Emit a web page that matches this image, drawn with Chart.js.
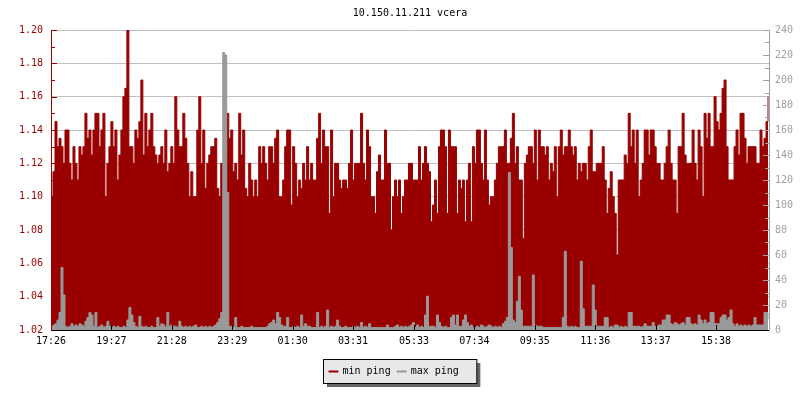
<!DOCTYPE html>
<html>
<head>
<meta charset="utf-8">
<title>10.150.11.211 vcera</title>
<script src="https://cdn.jsdelivr.net/npm/chart.js@4.4.1/dist/chart.umd.min.js"></script>
<style>
    html, body { margin: 0; padding: 0; background: #fff; }
    canvas { display: block; }
</style>
</head>
<body>
<canvas id="pingChart" width="800" height="400"></canvas>
<script>
const chartTitle = '10.150.11.211 vcera';
const tickLabels = ['17:26', '19:27', '21:28', '23:29', '01:30', '03:31', '05:33', '07:34', '09:35', '11:36', '13:37', '15:38'];
const sampleMinutes = 4;

// min ping, seconds (left axis)
const minPing = [
    1.10, 1.115, 1.145, 1.13, 1.135, 1.13, 1.12, 1.14, 1.14, 1.12,
    1.11, 1.13, 1.12, 1.11, 1.13, 1.125, 1.13, 1.15, 1.135, 1.14,
    1.125, 1.14, 1.15, 1.15, 1.13, 1.14, 1.15, 1.10, 1.12, 1.13,
    1.145, 1.13, 1.14, 1.11, 1.125, 1.14, 1.16, 1.165, 1.20, 1.13,
    1.13, 1.12, 1.14, 1.135, 1.145, 1.17, 1.125, 1.15, 1.13, 1.14,
    1.15, 1.13, 1.125, 1.12, 1.125, 1.13, 1.12, 1.14, 1.115, 1.12,
    1.13, 1.12, 1.16, 1.14, 1.13, 1.13, 1.15, 1.135, 1.12, 1.10,
    1.115, 1.10, 1.10, 1.14, 1.16, 1.12, 1.14, 1.105, 1.12, 1.125,
    1.13, 1.13, 1.135, 1.105, 1.10, 1.12, 1.12, 1.125, 1.15, 1.135, 1.14,
    1.115, 1.12, 1.11, 1.15, 1.125, 1.14, 1.105, 1.10, 1.12, 1.11,
    1.10, 1.11, 1.10, 1.13, 1.12, 1.13, 1.12, 1.11, 1.13, 1.13,
    1.12, 1.135, 1.14, 1.10, 1.10, 1.11, 1.13, 1.14, 1.14, 1.095,
    1.13, 1.12, 1.10, 1.11, 1.105, 1.12, 1.11, 1.13, 1.11, 1.12,
    1.11, 1.11, 1.135, 1.15, 1.12, 1.14, 1.13, 1.13, 1.09, 1.14,
    1.10, 1.12, 1.12, 1.11, 1.105, 1.11, 1.11, 1.105, 1.12, 1.14,
    1.11, 1.12, 1.12, 1.12, 1.15, 1.12, 1.11, 1.14, 1.13, 1.10,
    1.10, 1.09, 1.115, 1.125, 1.11, 1.11, 1.14, 1.12, 1.12, 1.08,
    1.10, 1.11, 1.10, 1.11, 1.09, 1.10, 1.11, 1.11, 1.12, 1.12,
    1.11, 1.11, 1.11, 1.13, 1.11, 1.12, 1.13, 1.12, 1.115, 1.085,
    1.095, 1.11, 1.09, 1.13, 1.14, 1.14, 1.13, 1.09, 1.14, 1.13,
    1.13, 1.13, 1.09, 1.11, 1.105, 1.11, 1.085, 1.11, 1.12, 1.085,
    1.13, 1.12, 1.14, 1.14, 1.12, 1.11, 1.14, 1.11, 1.095, 1.10,
    1.10, 1.11, 1.12, 1.13, 1.13, 1.13, 1.14, 1.12, 1.12, 1.135,
    1.15, 1.12, 1.13, 1.11, 1.11, 1.075, 1.12, 1.125, 1.13, 1.13,
    1.12, 1.14, 1.11, 1.14, 1.13, 1.13, 1.125, 1.13, 1.11, 1.12,
    1.115, 1.13, 1.10, 1.13, 1.14, 1.125, 1.13, 1.13, 1.14, 1.13,
    1.125, 1.13, 1.11, 1.12, 1.115, 1.12, 1.12, 1.11, 1.13, 1.14,
    1.115, 1.115, 1.12, 1.12, 1.12, 1.13, 1.11, 1.09, 1.105, 1.115,
    1.10, 1.09, 1.065, 1.11, 1.11, 1.11, 1.125, 1.12, 1.15, 1.13,
    1.14, 1.12, 1.14, 1.10, 1.11, 1.12, 1.14, 1.14, 1.125, 1.14,
    1.14, 1.13, 1.12, 1.12, 1.11, 1.11, 1.12, 1.13, 1.14, 1.12,
    1.11, 1.11, 1.09, 1.13, 1.13, 1.15, 1.125, 1.12, 1.12, 1.12,
    1.14, 1.12, 1.11, 1.14, 1.13, 1.10, 1.15, 1.135, 1.15, 1.13,
    1.13, 1.16, 1.145, 1.14, 1.15, 1.165, 1.17, 1.13, 1.11, 1.11,
    1.11, 1.13, 1.14, 1.125, 1.15, 1.15, 1.135, 1.12, 1.13, 1.13,
    1.13, 1.13, 1.12, 1.12, 1.14, 1.13, 1.135, 1.145, 1.16
];

// max ping, right axis
const maxPing = [
    3, 4, 5, 8, 14, 50, 28, 3, 2, 3,
    5, 3, 4, 3, 5, 4, 3, 7, 10, 14,
    12, 3, 14, 2, 3, 4, 2, 3, 7, 3,
    2, 3, 2, 3, 2, 2, 3, 2, 8, 18,
    12, 6, 3, 2, 11, 3, 2, 3, 2, 2,
    3, 2, 2, 10, 3, 5, 4, 2, 14, 3,
    4, 3, 3, 2, 7, 3, 2, 3, 2, 3,
    2, 3, 4, 2, 2, 3, 2, 3, 2, 3,
    2, 3, 4, 6, 9, 14, 222, 220, 110, 3,
    3, 2, 10, 2, 2, 3, 2, 2, 2, 2,
    3, 2, 2, 2, 2, 2, 2, 2, 3, 5,
    6, 8, 5, 14, 10, 4, 3, 3, 10, 2,
    2, 3, 2, 3, 2, 12, 3, 5, 3, 3,
    2, 2, 2, 14, 2, 3, 2, 3, 16, 2,
    3, 2, 3, 8, 3, 2, 2, 3, 2, 2,
    2, 3, 2, 3, 2, 6, 2, 3, 2, 5,
    2, 2, 2, 2, 2, 2, 2, 2, 4, 2,
    2, 2, 3, 4, 2, 3, 2, 3, 2, 3,
    4, 6, 2, 4, 2, 3, 2, 12, 27, 3,
    3, 3, 2, 12, 6, 3, 2, 3, 2, 2,
    10, 12, 4, 12, 3, 3, 8, 12, 6, 3,
    4, 2, 2, 3, 2, 4, 3, 2, 3, 4,
    3, 2, 3, 2, 3, 2, 5, 7, 10, 126,
    66, 8, 6, 23, 43, 16, 3, 3, 3, 3,
    3, 44, 4, 3, 3, 3, 2, 2, 2, 2,
    2, 2, 2, 2, 2, 2, 10, 63, 3, 2,
    3, 2, 3, 2, 2, 55, 17, 3, 3, 3,
    3, 36, 16, 3, 3, 3, 3, 10, 10, 2,
    3, 2, 4, 4, 2, 3, 2, 3, 2, 14,
    14, 3, 3, 3, 3, 2, 3, 5, 3, 3,
    3, 6, 3, 3, 4, 4, 8, 8, 12, 12,
    5, 4, 6, 5, 4, 5, 6, 4, 10, 10,
    5, 4, 5, 4, 12, 8, 5, 8, 5, 6,
    14, 14, 5, 5, 5, 10, 12, 12, 8, 10,
    16, 5, 3, 5, 3, 4, 3, 4, 3, 4,
    3, 4, 10, 4, 4, 4, 4, 14, 14, 10
];

const RED = '#990000';
const GRAY = '#999999';
const FONT = '"DejaVu Sans Mono", "Liberation Mono", monospace';

document.addEventListener('DOMContentLoaded', () => {
    // minutes since the first label, for placing the time ticks
    const toMinutes = (label) => {
        const [h, m] = label.split(':').map(Number);
        const [h0, m0] = tickLabels[0].split(':').map(Number);
        return ((h * 60 + m) - (h0 * 60 + m0) + 1440) % 1440;
    };
    const tickMinutes = tickLabels.map(toMinutes);

    Chart.defaults.font.family = FONT;
    Chart.defaults.font.size = 10;

    // tick marks drawn inside the plot, plus title and boxed legend
    const decorations = {
        id: 'decorations',
        afterDatasetsDraw(chart) {
            const { ctx, chartArea: a, scales } = chart;
            ctx.save();
            ctx.lineWidth = 1;

            ctx.strokeStyle = RED;
            const yMin = scales.y.min, yMax = scales.y.max;
            for (let k = 0; k <= Math.round((yMax - yMin) / 0.01); k++) {
                const y = Math.round(scales.y.getPixelForValue(yMin + k * 0.01)) + 0.5;
                ctx.beginPath();
                ctx.moveTo(a.left, y);
                ctx.lineTo(a.left + (k % 2 ? 4 : 6), y);
                ctx.stroke();
            }

            ctx.strokeStyle = '#a0a0a0';
            for (let v = scales.y1.min; v <= scales.y1.max; v += 10) {
                const y = Math.round(scales.y1.getPixelForValue(v)) + 0.5;
                ctx.beginPath();
                ctx.moveTo(a.right, y);
                ctx.lineTo(a.right - (v % 20 ? 4 : 6), y);
                ctx.stroke();
            }

            ctx.strokeStyle = '#000';
            scales.x.ticks.forEach((t) => {
                const x = Math.round(scales.x.getPixelForValue(t.value)) + 0.5;
                ctx.beginPath();
                ctx.moveTo(x, a.bottom);
                ctx.lineTo(x, a.bottom - 5);
                ctx.stroke();
            });
            ctx.restore();
        },
        afterDraw(chart) {
            const { ctx, chartArea: a } = chart;
            ctx.save();
            ctx.font = '10px ' + FONT;
            ctx.fillStyle = '#000';
            ctx.textAlign = 'center';
            ctx.textBaseline = 'middle';
            ctx.fillText(chartTitle, (a.left + a.right) / 2, 13);

            const items = chart.data.datasets.map((d) => ({ text: d.label, color: d.borderColor }));
            const widths = items.map((it) => ctx.measureText(it.text).width);
            const boxW = 5 + widths.reduce((s, w) => s + 10 + 4 + w + 6, 0) + 12;
            const boxH = 24;
            const boxX = Math.round(chart.width / 2 - boxW / 2) + 0.5;
            const boxY = 359.5;

            ctx.fillStyle = '#666666';
            ctx.fillRect(boxX + 3.5, boxY + 3.5, boxW, boxH);
            ctx.fillStyle = '#e8e8e8';
            ctx.fillRect(boxX, boxY, boxW, boxH);
            ctx.strokeStyle = '#000';
            ctx.strokeRect(boxX, boxY, boxW, boxH);

            let x = boxX + 5;
            const cy = boxY + boxH / 2;
            ctx.textAlign = 'left';
            items.forEach((it, i) => {
                ctx.fillStyle = it.color;
                ctx.fillRect(x, cy - 1, 10, 2);
                x += 14;
                ctx.fillStyle = '#000';
                ctx.fillText(it.text, x, cy);
                x += widths[i] + 6;
            });
            ctx.restore();
        }
    };

    const canvas = document.getElementById('pingChart');

    new Chart(canvas, {
        type: 'line',
        data: {
            datasets: [{
                label: 'min ping',
                data: minPing.map((v, i) => ({ x: i * sampleMinutes, y: v })),
                yAxisID: 'y',
                stepped: true,
                fill: 'start',
                backgroundColor: RED,
                borderColor: RED,
                borderWidth: 1,
                pointRadius: 0,
                order: 1
            }, {
                label: 'max ping',
                data: maxPing.map((v, i) => ({ x: i * sampleMinutes, y: v })),
                yAxisID: 'y1',
                stepped: true,
                fill: 'start',
                backgroundColor: GRAY,
                borderColor: GRAY,
                borderWidth: 1,
                pointRadius: 0,
                order: 0
            }]
        },
        options: {
            responsive: false,
            animation: false,
            events: [],
            layout: {
                padding: { top: 30, left: 0, right: 0, bottom: 0 }
            },
            scales: {
                x: {
                    type: 'linear',
                    min: 0,
                    max: 1438,
                    afterBuildTicks: (scale) => {
                        scale.ticks = tickMinutes.map((v) => ({ value: v }));
                    },
                    afterFit: (scale) => { scale.height = 70; },
                    ticks: {
                        color: '#000',
                        padding: 5,
                        maxRotation: 0,
                        autoSkip: false,
                        callback: (value, index) => tickLabels[index]
                    },
                    grid: { display: false, drawTicks: false },
                    border: { color: '#000', z: 1 }
                },
                y: {
                    position: 'left',
                    min: 1.02,
                    max: 1.20,
                    afterFit: (scale) => { scale.width = 51; },
                    ticks: {
                        stepSize: 0.02,
                        color: RED,
                        padding: 8,
                        callback: (value) => value.toFixed(2)
                    },
                    grid: { color: '#c0c0c0', drawTicks: false },
                    border: { color: RED, z: 1 }
                },
                y1: {
                    position: 'right',
                    min: 0,
                    max: 240,
                    afterFit: (scale) => { scale.width = 31; },
                    ticks: {
                        stepSize: 20,
                        color: '#a0a0a0',
                        padding: 6
                    },
                    grid: { display: false, drawTicks: false },
                    border: { color: '#a0a0a0', z: 1 }
                }
            },
            plugins: {
                legend: { display: false },
                title: { display: false },
                tooltip: { enabled: false }
            }
        },
        plugins: [decorations]
    });
});
</script>
</body>
</html>
